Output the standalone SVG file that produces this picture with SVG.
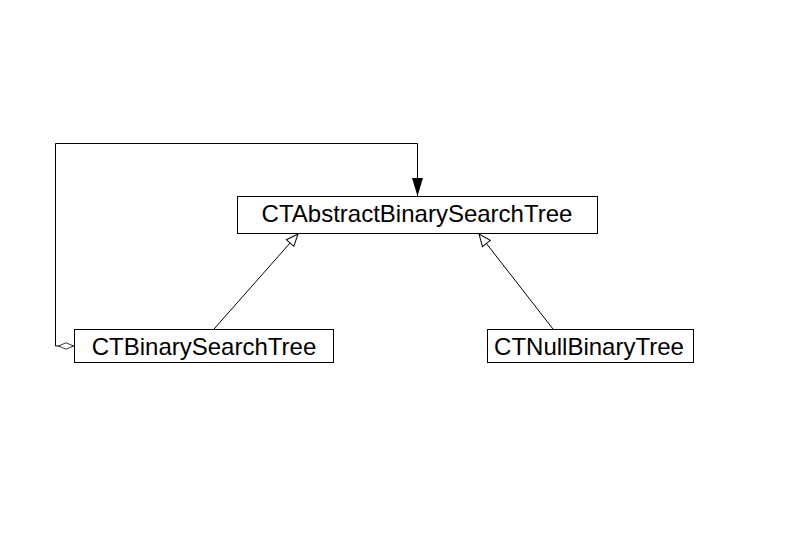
<svg xmlns="http://www.w3.org/2000/svg" width="788" height="557" viewBox="0 0 788 557">
<style>
.box{fill:#fff;stroke:#000;stroke-width:1}
.lbl{font-family:"Liberation Sans",Arial,sans-serif;font-size:24px;fill:#000;text-anchor:middle}
.edge{fill:none;stroke:#000;stroke-width:1}
</style>
<defs>
<marker id="gen" viewBox="0 0 14 12" refX="13" refY="6" markerWidth="14" markerHeight="12" markerUnits="userSpaceOnUse" orient="auto">
<path d="M1,1 L13,6 L1,11 Z" fill="#fff" stroke="#000" stroke-width="1"/>
</marker>
<marker id="filled" viewBox="0 0 18 12" refX="18" refY="6" markerWidth="18" markerHeight="12" markerUnits="userSpaceOnUse" orient="auto">
<path d="M0,0.5 L18,6 L0,11.5 Z" fill="#000"/>
</marker>
<marker id="diamond" viewBox="0 0 16 8" refX="0" refY="4" markerWidth="16" markerHeight="8" markerUnits="userSpaceOnUse" orient="auto">
<path d="M0.5,4 L8,0.8 L15.5,4 L8,7.2 Z" fill="#fff" stroke="#000" stroke-width="0.8"/>
</marker>
</defs>
<rect width="788" height="557" fill="#fff"/>
<g id="connectors">
<line class="edge" x1="214" y1="329" x2="298" y2="234" marker-end="url(#gen)"/>
<line class="edge" x1="553" y1="329" x2="479" y2="234" marker-end="url(#gen)"/>
<path class="edge" d="M74,346 L55.5,346 L55.5,143.5 L417.5,143.5 L417.5,196" marker-start="url(#diamond)" marker-end="url(#filled)"/>
</g>
<g id="CTAbstractBinarySearchTree">
<rect class="box" x="237.5" y="196.5" width="360" height="37"/>
<text class="lbl" x="417" y="222">CTAbstractBinarySearchTree</text>
</g>
<g id="CTBinarySearchTree">
<rect class="box" x="74.5" y="329.5" width="259" height="33"/>
<text class="lbl" x="204" y="355">CTBinarySearchTree</text>
</g>
<g id="CTNullBinaryTree">
<rect class="box" x="487.5" y="329.5" width="206" height="33"/>
<text class="lbl" x="589" y="355">CTNullBinaryTree</text>
</g>
</svg>
